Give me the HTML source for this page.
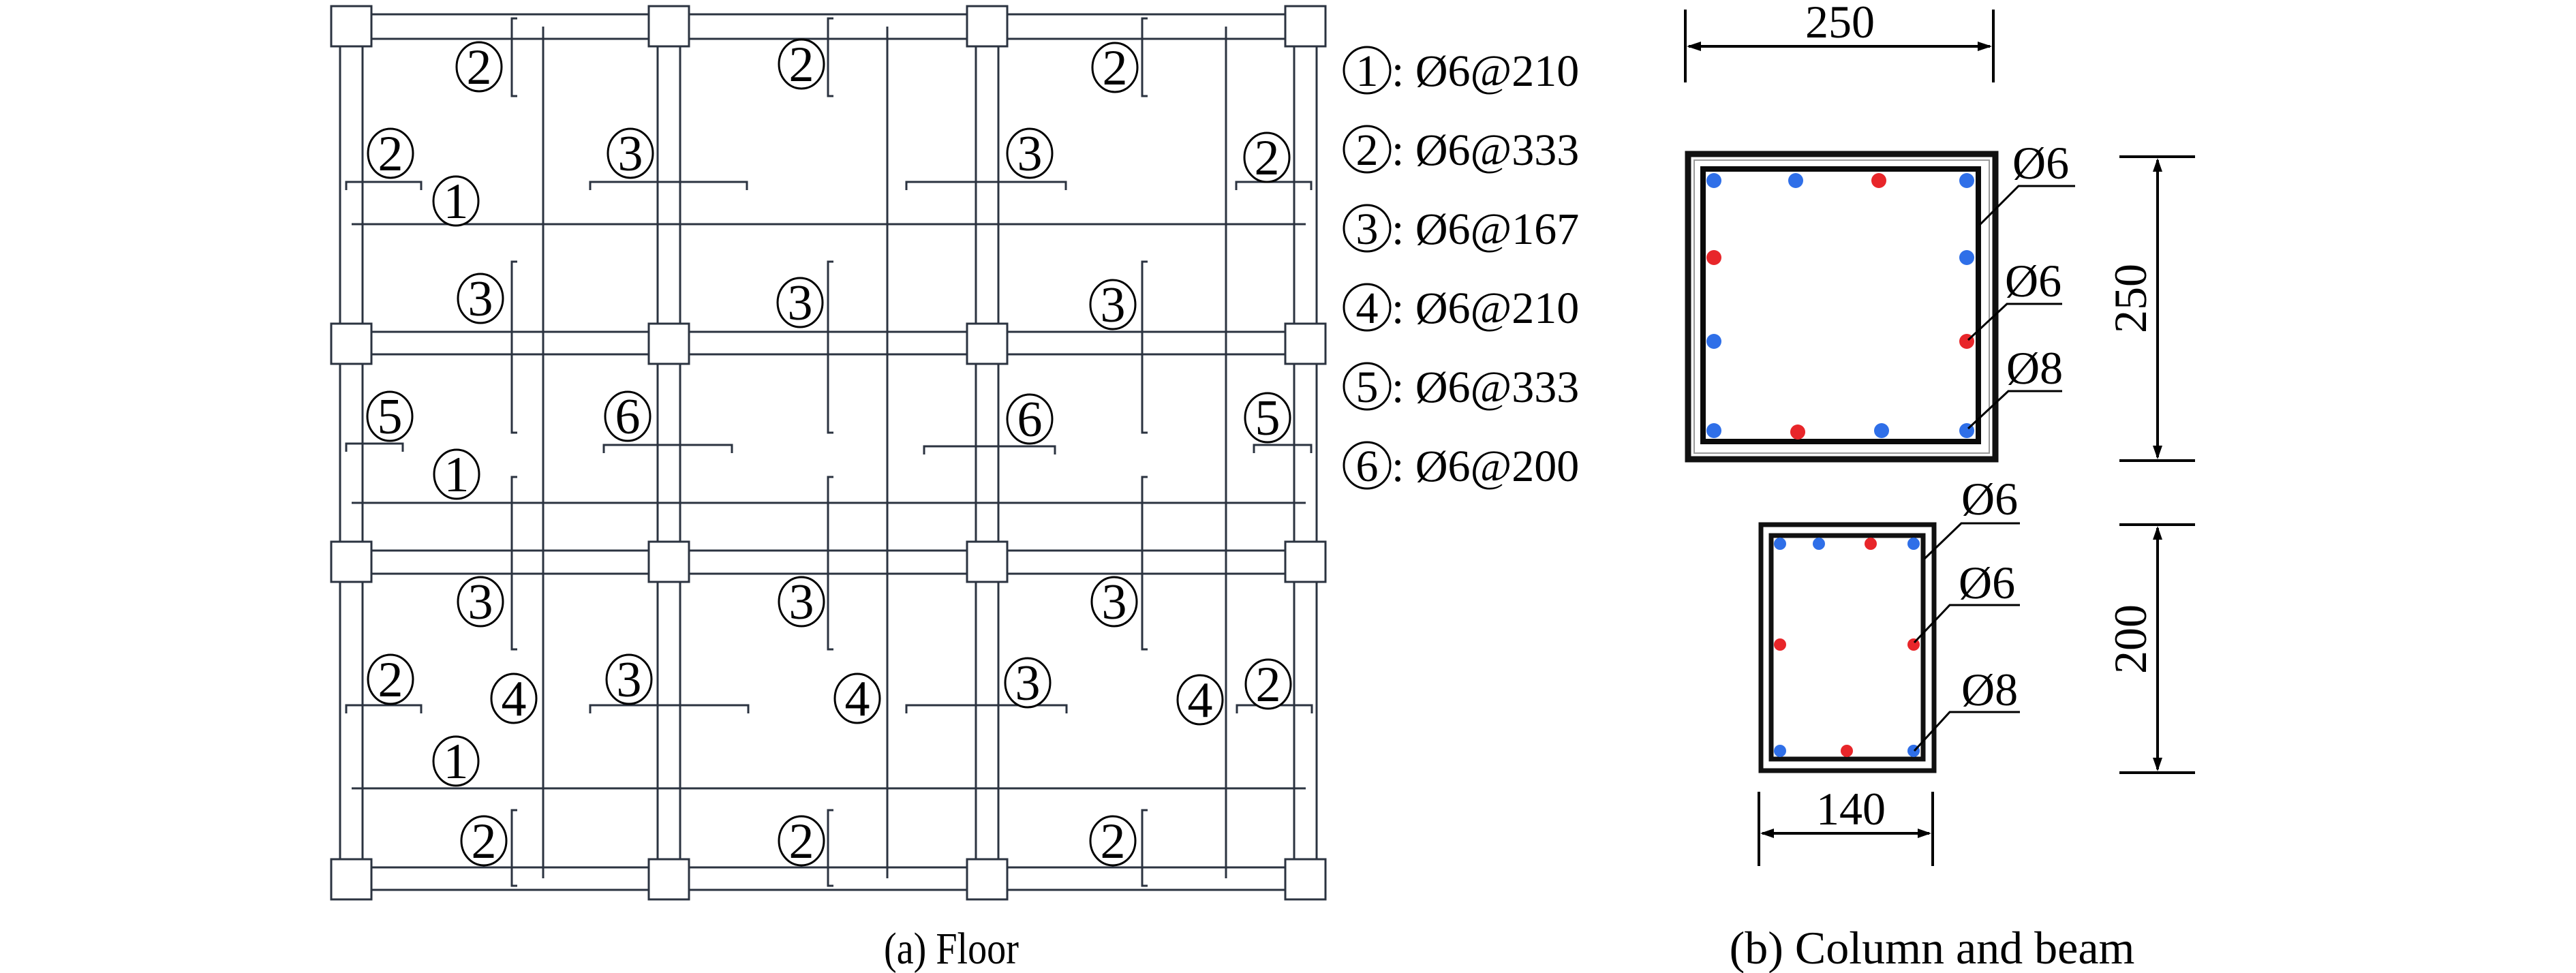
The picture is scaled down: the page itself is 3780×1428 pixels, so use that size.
<!DOCTYPE html>
<html><head><meta charset="utf-8"><style>
html,body{margin:0;padding:0;background:#fff;}
svg{display:block;font-family:"Liberation Serif","DejaVu Serif",serif;}
svg text{font-family:"Liberation Serif","DejaVu Serif",serif;fill:#000;}
</style></head><body>
<svg width="3780" height="1428" viewBox="0 0 3780 1428" xmlns="http://www.w3.org/2000/svg" font-family="Liberation Serif, DejaVu Serif, serif">
<g stroke="#2b3340" fill="none">
<g stroke-width="3">
<line x1="515" y1="21" x2="1915" y2="21"/><line x1="515" y1="57" x2="1915" y2="57"/>
<line x1="515" y1="487" x2="1915" y2="487"/><line x1="515" y1="520" x2="1915" y2="520"/>
<line x1="515" y1="808" x2="1915" y2="808"/><line x1="515" y1="842" x2="1915" y2="842"/>
<line x1="515" y1="1273" x2="1915" y2="1273"/><line x1="515" y1="1306" x2="1915" y2="1306"/>
<line x1="499" y1="38" x2="499" y2="1290"/><line x1="532" y1="38" x2="532" y2="1290"/>
<line x1="965" y1="38" x2="965" y2="1290"/><line x1="998" y1="38" x2="998" y2="1290"/>
<line x1="1432" y1="38" x2="1432" y2="1290"/><line x1="1465" y1="38" x2="1465" y2="1290"/>
<line x1="1899" y1="38" x2="1899" y2="1290"/><line x1="1932" y1="38" x2="1932" y2="1290"/>
</g>
<g stroke-width="3">
<line x1="516" y1="329" x2="1916" y2="329"/>
<line x1="516" y1="738" x2="1916" y2="738"/>
<line x1="516" y1="1157" x2="1916" y2="1157"/>
<line x1="797" y1="39" x2="797" y2="1289"/>
<line x1="1302" y1="39" x2="1302" y2="1289"/>
<line x1="1799" y1="39" x2="1799" y2="1289"/>
</g>
<g stroke-width="3">
<path d="M759 27H751V141H759"/><path d="M1223 27H1215V141H1223"/><path d="M1684 27H1676V141H1684"/>
<path d="M759 384H751V635H759"/><path d="M1223 384H1215V635H1223"/><path d="M1684 384H1676V635H1684"/>
<path d="M759 700H751V953H759"/><path d="M1223 700H1215V953H1223"/><path d="M1684 700H1676V953H1684"/>
<path d="M759 1189H751V1300H759"/><path d="M1223 1189H1215V1300H1223"/><path d="M1684 1189H1676V1300H1684"/>
<path d="M508 279V267H618V279"/><path d="M866 279V267H1096V279"/><path d="M1330 279V267H1564V279"/><path d="M1814 279V267H1924V279"/>
<path d="M508 663V651H591V663"/><path d="M886 665V653H1074V665"/><path d="M1356 667V655H1548V667"/><path d="M1840 665V653H1924V665"/>
<path d="M508 1047V1035H618V1047"/><path d="M866 1047V1035H1098V1047"/><path d="M1330 1047V1035H1565V1047"/><path d="M1815 1047V1035H1925V1047"/>
</g>
<g stroke-width="3" fill="#fff">
<rect x="486" y="9" width="59" height="59"/><rect x="952" y="9" width="59" height="59"/><rect x="1419" y="9" width="59" height="59"/><rect x="1886" y="9" width="59" height="59"/>
<rect x="486" y="475" width="59" height="59"/><rect x="952" y="475" width="59" height="59"/><rect x="1419" y="475" width="59" height="59"/><rect x="1886" y="475" width="59" height="59"/>
<rect x="486" y="795" width="59" height="59"/><rect x="952" y="795" width="59" height="59"/><rect x="1419" y="795" width="59" height="59"/><rect x="1886" y="795" width="59" height="59"/>
<rect x="486" y="1261" width="59" height="59"/><rect x="952" y="1261" width="59" height="59"/><rect x="1419" y="1261" width="59" height="59"/><rect x="1886" y="1261" width="59" height="59"/>
</g>
</g>
<g font-size="74" text-anchor="middle">
<g fill="#fff" stroke="#000" stroke-width="3">
<ellipse cx="703" cy="98" rx="33" ry="36"/><ellipse cx="1176" cy="94" rx="33" ry="36"/><ellipse cx="1636" cy="99" rx="33" ry="36"/>
<ellipse cx="573" cy="225" rx="33" ry="36"/><ellipse cx="925" cy="225" rx="33" ry="36"/><ellipse cx="1511" cy="225" rx="33" ry="36"/><ellipse cx="1859" cy="231" rx="33" ry="36"/><ellipse cx="669" cy="295" rx="33" ry="36"/>
<ellipse cx="705" cy="438" rx="33" ry="36"/><ellipse cx="1174" cy="444" rx="33" ry="36"/><ellipse cx="1633" cy="447" rx="33" ry="36"/>
<ellipse cx="572" cy="611" rx="33" ry="36"/><ellipse cx="921" cy="611" rx="33" ry="36"/><ellipse cx="1511" cy="615" rx="33" ry="36"/><ellipse cx="1860" cy="613" rx="33" ry="36"/><ellipse cx="670" cy="696" rx="33" ry="36"/>
<ellipse cx="705" cy="883" rx="33" ry="36"/><ellipse cx="1176" cy="883" rx="33" ry="36"/><ellipse cx="1635" cy="883" rx="33" ry="36"/>
<ellipse cx="573" cy="997" rx="33" ry="36"/><ellipse cx="754" cy="1025" rx="33" ry="36"/><ellipse cx="923" cy="997" rx="33" ry="36"/><ellipse cx="1258" cy="1025" rx="33" ry="36"/><ellipse cx="1508" cy="1002" rx="33" ry="36"/><ellipse cx="1761" cy="1027" rx="33" ry="36"/><ellipse cx="1861" cy="1004" rx="33" ry="36"/>
<ellipse cx="669" cy="1117" rx="33" ry="36"/>
<ellipse cx="710" cy="1234" rx="33" ry="36"/><ellipse cx="1176" cy="1234" rx="33" ry="36"/><ellipse cx="1633" cy="1234" rx="33" ry="36"/>
</g>
<text x="703" y="123">2</text><text x="1176" y="119">2</text><text x="1636" y="124">2</text>
<text x="573" y="250">2</text><text x="925" y="250">3</text><text x="1511" y="250">3</text><text x="1859" y="256">2</text><text x="669" y="320">1</text>
<text x="705" y="463">3</text><text x="1174" y="469">3</text><text x="1633" y="472">3</text>
<text x="572" y="636">5</text><text x="921" y="636">6</text><text x="1511" y="640">6</text><text x="1860" y="638">5</text><text x="670" y="721">1</text>
<text x="705" y="908">3</text><text x="1176" y="908">3</text><text x="1635" y="908">3</text>
<text x="573" y="1022">2</text><text x="754" y="1050">4</text><text x="923" y="1022">3</text><text x="1258" y="1050">4</text><text x="1508" y="1027">3</text><text x="1761" y="1052">4</text><text x="1861" y="1029">2</text>
<text x="669" y="1142">1</text>
<text x="710" y="1259">2</text><text x="1176" y="1259">2</text><text x="1633" y="1259">2</text>
</g>
<g font-size="66">
<g fill="none" stroke="#000" stroke-width="3">
<ellipse cx="2006" cy="103" rx="34" ry="34"/><ellipse cx="2006" cy="219" rx="34" ry="34"/><ellipse cx="2006" cy="335" rx="34" ry="34"/>
<ellipse cx="2006" cy="451" rx="34" ry="34"/><ellipse cx="2006" cy="567" rx="34" ry="34"/><ellipse cx="2006" cy="683" rx="34" ry="34"/>
</g>
<g text-anchor="middle" font-size="66">
<text x="2006" y="126">1</text><text x="2006" y="242">2</text><text x="2006" y="358">3</text>
<text x="2006" y="474">4</text><text x="2006" y="590">5</text><text x="2006" y="706">6</text>
</g>
<text x="2042" y="126">: Ø6@210</text>
<text x="2042" y="242">: Ø6@333</text>
<text x="2042" y="358">: Ø6@167</text>
<text x="2042" y="474">: Ø6@210</text>
<text x="2042" y="590">: Ø6@333</text>
<text x="2042" y="706">: Ø6@200</text>
</g>
<text x="1396" y="1414" font-size="66" text-anchor="middle" transform="translate(1396 0) scale(0.85 1) translate(-1396 0)">(a) Floor</text>

<g fill="none">
<rect x="2477" y="226" width="451" height="448" stroke="#111" stroke-width="9"/>
<rect x="2486" y="235" width="433" height="430" stroke="#999" stroke-width="2"/>
<rect x="2499" y="248" width="404" height="400" stroke="#0a0a0a" stroke-width="8"/>
</g>
<g fill="#2f6fe8">
<circle cx="2515" cy="265" r="11"/><circle cx="2635" cy="265" r="11"/><circle cx="2886" cy="265" r="11"/>
<circle cx="2886" cy="378" r="11"/><circle cx="2515" cy="501" r="11"/>
<circle cx="2515" cy="632" r="11"/><circle cx="2761" cy="632" r="11"/><circle cx="2886" cy="632" r="11"/>
</g>
<g fill="#e8262a">
<circle cx="2757" cy="265" r="11"/><circle cx="2515" cy="378" r="11"/><circle cx="2886" cy="501" r="11"/><circle cx="2638" cy="634" r="11"/>
</g>
<g stroke="#000" stroke-width="3" fill="none">
<polyline points="2905,330 2962,273 3045,273"/>
<polyline points="2888,499 2945,446 3026,446"/>
<polyline points="2888,629 2947,574 3026,574"/>
</g>
<g font-size="68">
<text x="2953" y="262">Ø6</text>
<text x="2942" y="435">Ø6</text>
<text x="2944" y="563">Ø8</text>
</g>
<g fill="none">
<rect x="2584" y="770" width="254" height="361" stroke="#111" stroke-width="7"/>
<rect x="2599" y="786" width="223" height="328" stroke="#111" stroke-width="7"/>
</g>
<g fill="#2f6fe8">
<circle cx="2612" cy="798" r="9"/><circle cx="2669" cy="798" r="9"/><circle cx="2808" cy="798" r="9"/>
<circle cx="2612" cy="1102" r="9"/><circle cx="2808" cy="1102" r="9"/>
</g>
<g fill="#e8262a">
<circle cx="2745" cy="798" r="9"/><circle cx="2612" cy="946" r="9"/><circle cx="2808" cy="946" r="9"/><circle cx="2710" cy="1102" r="9"/>
</g>
<g stroke="#000" stroke-width="3" fill="none">
<polyline points="2824,820 2878,768 2964,768"/>
<polyline points="2809,943 2861,888 2964,888"/>
<polyline points="2809,1102 2861,1045 2964,1045"/>
</g>
<g font-size="68">
<text x="2878" y="755">Ø6</text>
<text x="2874" y="878">Ø6</text>
<text x="2878" y="1035">Ø8</text>
</g>
<g stroke="#000" stroke-width="4" fill="none">
<line x1="2473" y1="14" x2="2473" y2="121"/><line x1="2925" y1="14" x2="2925" y2="121"/>
<line x1="2478" y1="68" x2="2920" y2="68"/>
<line x1="3110" y1="230" x2="3221" y2="230"/><line x1="3110" y1="676" x2="3221" y2="676"/>
<line x1="3166" y1="235" x2="3166" y2="671"/>
<line x1="3110" y1="770" x2="3221" y2="770"/><line x1="3110" y1="1134" x2="3221" y2="1134"/>
<line x1="3166" y1="775" x2="3166" y2="1129"/>
<line x1="2581" y1="1162" x2="2581" y2="1271"/><line x1="2836" y1="1162" x2="2836" y2="1271"/>
<line x1="2586" y1="1223" x2="2831" y2="1223"/>
</g>
<g fill="#000">
<polygon points="2475,68 2496,61 2496,75"/><polygon points="2923,68 2902,61 2902,75"/>
<polygon points="3166,232 3159,252 3173,252"/><polygon points="3166,674 3159,654 3173,654"/>
<polygon points="3166,772 3159,792 3173,792"/><polygon points="3166,1132 3159,1112 3173,1112"/>
<polygon points="2583,1223 2603,1216 2603,1230"/><polygon points="2834,1223 2814,1216 2814,1230"/>
</g>
<g font-size="68" text-anchor="middle">
<text x="2700" y="55">250</text>
<text x="2716" y="1210">140</text>
<text transform="translate(3149 438) rotate(-90)" x="0" y="0">250</text>
<text transform="translate(3149 938) rotate(-90)" x="0" y="0">200</text>
<text x="2835" y="1414">(b) Column and beam</text>
</g>
</svg>
</body></html>
